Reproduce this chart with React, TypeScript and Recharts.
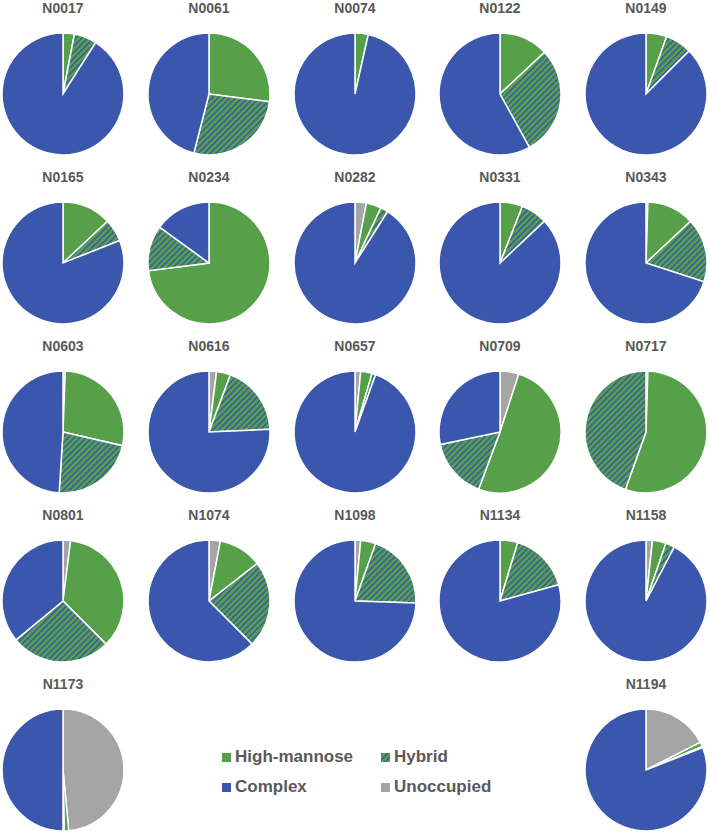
import React from 'react';
import { PieChart, Pie, Cell } from 'recharts';

const sites = [
  'N0017', 'N0061', 'N0074', 'N0122', 'N0149',
  'N0165', 'N0234', 'N0282', 'N0331', 'N0343',
  'N0603', 'N0616', 'N0657', 'N0709', 'N0717',
  'N0801', 'N1074', 'N1098', 'N1134', 'N1158',
  'N1173', 'N1194',
];

// percentages per site, slices go clockwise from 12 o'clock in this order
const unoccupied = [0, 0, 0, 0, 0, 0, 0, 3, 0, 0.5, 0.6, 2, 1.5, 5, 0.5, 2, 3, 1.5, 0, 1.7, 48.5, 17.5];
const highMannose = [3, 27, 3.5, 13, 5.5, 13, 73, 4, 6, 12.5, 28, 3.7, 3, 50.7, 55, 35.5, 11.5, 4, 4.7, 3.6, 1.2, 1.2];
const hybrid = [6, 27, 0, 29, 7, 6, 12, 2, 7, 17, 22.4, 18.6, 1, 16, 44.5, 26.5, 23, 20, 16, 2.4, 0.3, 0.3];
const complex = [91, 46, 96.5, 58, 87.5, 81, 15, 91, 87, 70, 49, 75.7, 94.5, 28.3, 0, 36, 62.5, 74.5, 79.3, 92.3, 50, 81];

const categories = ['Unoccupied', 'High-mannose', 'Hybrid', 'Complex'];
const legendOrder = ['High-mannose', 'Hybrid', 'Complex', 'Unoccupied'];

const colors: Record<string, string> = {
  'Unoccupied': '#a5a5a5',
  'High-mannose': '#55a048',
  'Hybrid': 'url(#hybridHatch)',
  'Complex': '#3a56ad',
};

const FONT = '"Liberation Sans", Arial, sans-serif';
const colX = [63, 209, 355, 500, 646];
const rowY = [94, 263, 432, 601, 770];
const R = 61;

// last row only uses first and last column
const slotOf = (i: number) => (i < 20 ? { col: i % 5, row: Math.floor(i / 5) } : { col: i === 20 ? 0 : 4, row: 4 });

const pieData = sites.map((site, i) => {
  const vals = [unoccupied[i], highMannose[i], hybrid[i], complex[i]];
  return {
    site,
    slices: categories.map((name, k) => ({ name, value: vals[k] })).filter(d => d.value > 0),
  };
});

const LegendMark = ({ name }: { name: string }) => (
  <svg width={9} height={9} style={{ display: 'block' }}>
    <rect x={0} y={0} width={9} height={9} fill={colors[name]} />
  </svg>
);

export default function App() {
  return (
    <div style={{ position: 'absolute', left: 0, top: 0, width: 708, height: 832, background: '#fff', fontFamily: FONT }}>
      <svg width={0} height={0} style={{ position: 'absolute' }}>
        <defs>
          <pattern id="hybridHatch" patternUnits="userSpaceOnUse" width={4.2} height={4.2} patternTransform="rotate(45)">
            <rect x={0} y={0} width={4.2} height={4.2} fill="#55a048" />
            <rect x={0} y={0} width={1.5} height={4.2} fill="#3a56ad" />
          </pattern>
        </defs>
      </svg>

      <PieChart
        width={708}
        height={832}
        margin={{ top: 0, right: 0, bottom: 0, left: 0 }}
        style={{ position: 'absolute', left: 0, top: 0 }}
      >
        {pieData.map((p, i) => {
          const { col, row } = slotOf(i);
          return (
            <Pie
              key={p.site}
              data={p.slices}
              dataKey="value"
              nameKey="name"
              cx={colX[col]}
              cy={rowY[row]}
              outerRadius={R}
              startAngle={90}
              endAngle={-270}
              stroke="#ffffff"
              strokeWidth={1.5}
              isAnimationActive={false}
            >
              {p.slices.map(s => (
                <Cell key={s.name} fill={colors[s.name]} />
              ))}
            </Pie>
          );
        })}
      </PieChart>

      {pieData.map((p, i) => {
        const { col, row } = slotOf(i);
        return (
          <div
            key={p.site + '-t'}
            style={{
              position: 'absolute', left: colX[col] - 50, width: 100, top: rowY[row] - 86 - 8,
              textAlign: 'center', fontSize: 14, lineHeight: '16px', fontWeight: 700, color: '#595959',
            }}
          >
            {p.site}
          </div>
        );
      })}

      {legendOrder.map((name, k) => {
        const left = k % 2 === 0 ? 222 : 381;
        const top = k < 2 ? 757 : 787;
        return (
          <div key={name} style={{ position: 'absolute', left, top: top - 10, height: 20, display: 'flex', alignItems: 'center' }}>
            <LegendMark name={name} />
            <span style={{ marginLeft: 4, fontSize: 17, fontWeight: 700, color: '#595959', lineHeight: '20px' }}>{name}</span>
          </div>
        );
      })}
    </div>
  );
}
